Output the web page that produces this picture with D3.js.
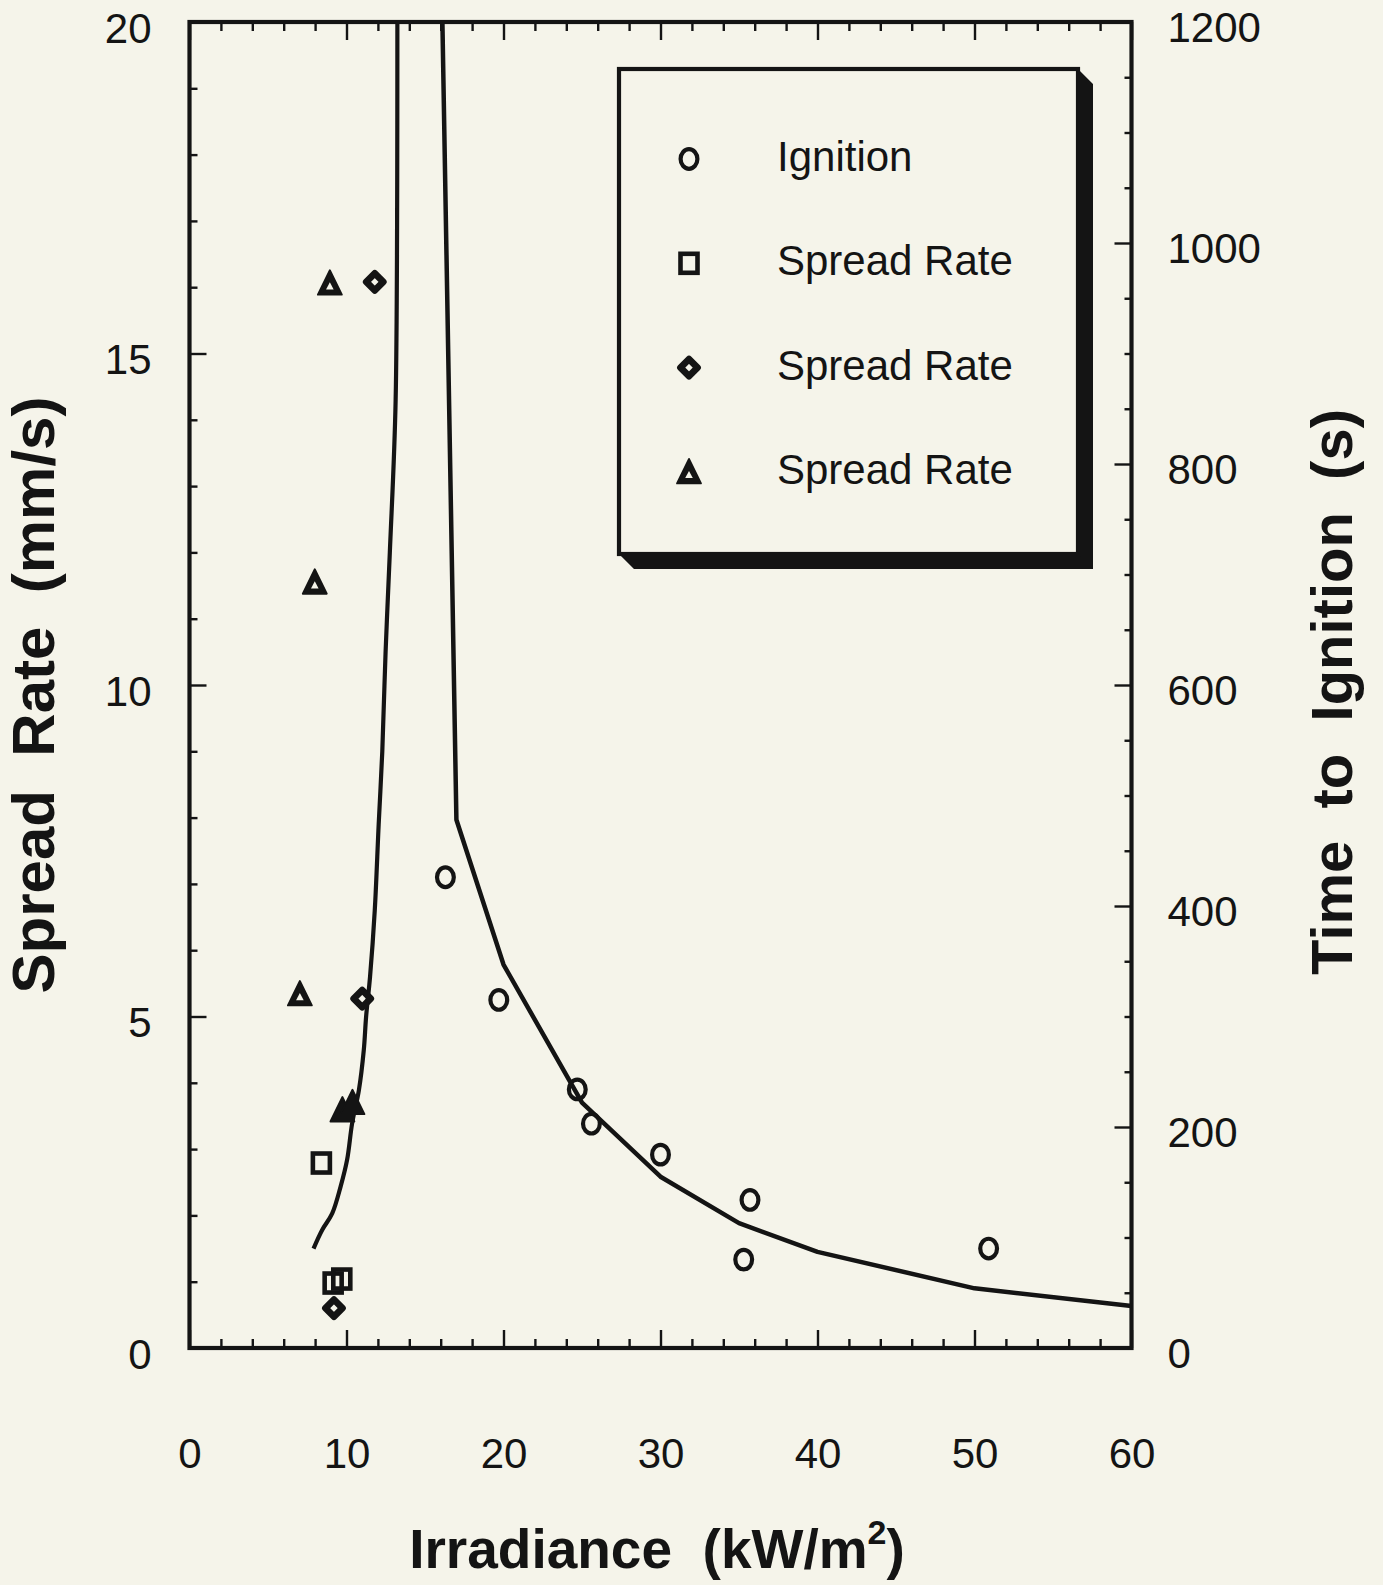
<!DOCTYPE html>
<html>
<head>
<meta charset="utf-8">
<script src="https://cdn.jsdelivr.net/npm/d3@7"></script>
<style>
  html, body { margin: 0; padding: 0; background: #f5f4ea; }
  svg { display: block; }
  text { font-family: "Liberation Sans", Arial, Helvetica, sans-serif; fill: #141414; }
</style>
</head>
<body>
<svg id="chart" width="1383" height="1585"></svg>
<script>
// ---------------- data ----------------
// Ignition: [irradiance kW/m2, time to ignition s] (right axis)
const ignitionPoints = [[16.3,426],[19.7,315],[24.7,234],[25.6,203],[30.0,175],[35.7,134],[35.3,80],[50.9,90]];
// Spread rate series: [irradiance, spread rate mm/s] (left axis)
const squarePoints   = [[8.4,2.79],[9.15,0.98],[9.7,1.04]];
const diamondPoints  = [[11.8,16.08],[11.0,5.27],[9.2,0.6]];
const trianglePoints = [[8.94,16.06],[7.98,11.55],[7.03,5.34]];
const triangleOverlap = [[9.74,3.59],[10.38,3.70]];   // overlapping triangles, printed solid
// Model curves
const spreadCurve = [[7.9,1.5],[8.45,1.78],[9.09,2.03],[9.62,2.43],[10.04,2.84],[10.36,3.39],[10.79,3.89],
  [11.1,4.49],[11.25,5.0],[11.5,5.6],[11.8,6.6],[12.05,7.9],[12.28,9.0],[12.49,10.5],[12.76,12.0],[13.13,14.3],[13.24,20]];
const ignitionCurve = [[16,1288],[17,478],[20,347],[25,222],[30,155],[35,113],[40,87],[50,54],[60,38]];
// Axes
const xTickLabels = [0,10,20,30,40,50,60];
const leftTickLabels = [0,5,10,15,20];
const rightTickLabels = [0,200,400,600,800,1000,1200];
const legendLabels = ["Ignition","Spread Rate","Spread Rate","Spread Rate"];
const legendSymbols = ["circle","square","diamond","triangle"];

// ---------------- layout ----------------
const INK = "#141414", BG = "#f5f4ea";
const L = 189.5, R = 1131.5, T = 22, B = 1348;
const svg = d3.select("#chart");
svg.append("rect").attr("width",1383).attr("height",1585).attr("fill",BG);

const x  = d3.scaleLinear().domain([0,60]).range([L,R]);
const yL = d3.scaleLinear().domain([0,20]).range([B,T]);
const yR = d3.scaleLinear().domain([0,1200]).range([B,T]);

svg.append("clipPath").attr("id","clip").append("rect")
  .attr("x",L).attr("y",T).attr("width",R-L).attr("height",B-T);

function tickGroup(axisFn, scale, values, size, tx, ty) {
  const g = svg.append("g").attr("transform",`translate(${tx},${ty})`)
    .call(axisFn(scale).tickValues(values).tickSize(size).tickFormat(""));
  g.select(".domain").remove();
  g.selectAll("line").attr("stroke",INK).attr("stroke-width",2.4);
  return g;
}
const xMinor = d3.range(0,61,2).filter(v=>v%10!==0);
const lMinor = d3.range(0,21,1).filter(v=>v%5!==0);
const rMinor = d3.range(0,1201,50).filter(v=>v%200!==0);
// bottom and top (inward)
tickGroup(d3.axisBottom, x, xMinor, -9, 0, B);
tickGroup(d3.axisBottom, x, xTickLabels, -18, 0, B);
tickGroup(d3.axisTop, x, xMinor, -9, 0, T);
tickGroup(d3.axisTop, x, xTickLabels, -18, 0, T);
// left
tickGroup(d3.axisLeft, yL, lMinor, -8, L, 0);
tickGroup(d3.axisLeft, yL, leftTickLabels, -17, L, 0);
// right
tickGroup(d3.axisRight, yR, rMinor, -7, R, 0);
tickGroup(d3.axisRight, yR, rightTickLabels, -17, R, 0);

// tick labels
function labelGroup(axisFn, scale, values, pad, tx, ty) {
  const g = svg.append("g").attr("transform",`translate(${tx},${ty})`)
    .call(axisFn(scale).tickValues(values).tickSize(0).tickPadding(pad).tickFormat(d3.format("d")));
  g.select(".domain").remove();
  g.selectAll("line").remove();
  g.selectAll("text").style("font-size","42px").attr("fill",INK)
    .style("font-family",'"Liberation Sans", Arial, sans-serif');
  return g;
}
labelGroup(d3.axisBottom, x, xTickLabels, 0, 0, B).selectAll("text").attr("y",120).attr("dy",null);
labelGroup(d3.axisLeft, yL, leftTickLabels, 38, L, 0).selectAll("text").attr("y",7);
labelGroup(d3.axisRight, yR, rightTickLabels, 36, R, 0).selectAll("text").attr("y",6);

// frame
svg.append("rect").attr("x",L).attr("y",T).attr("width",R-L).attr("height",B-T)
  .attr("fill","none").attr("stroke",INK).attr("stroke-width",4.2);

// curves
const plot = svg.append("g").attr("clip-path","url(#clip)");
plot.append("path").datum(spreadCurve)
  .attr("d", d3.line().x(d=>x(d[0])).y(d=>yL(d[1])).curve(d3.curveCatmullRom.alpha(0.5)))
  .attr("fill","none").attr("stroke",INK).attr("stroke-width",4.2).attr("stroke-linejoin","round");
plot.append("path").datum(ignitionCurve)
  .attr("d", d3.line().x(d=>x(d[0])).y(d=>yR(d[1])))
  .attr("fill","none").attr("stroke",INK).attr("stroke-width",4.5).attr("stroke-linejoin","round");

// symbols
function drawSymbol(g, type, cx, cy, solid) {
  if (type === "circle") {
    g.append("ellipse").attr("cx",cx).attr("cy",cy).attr("rx",8.4).attr("ry",9.8)
      .attr("fill","none").attr("stroke",INK).attr("stroke-width",4.2);
  } else if (type === "square") {
    g.append("rect").attr("x",cx-8.5).attr("y",cy-9.5).attr("width",17).attr("height",19)
      .attr("fill","none").attr("stroke",INK).attr("stroke-width",4.6);
  } else if (type === "diamond") {
    const h = 8.5;
    g.append("path").attr("d",`M${cx},${cy-h}L${cx+h},${cy}L${cx},${cy+h}L${cx-h},${cy}Z`)
      .attr("fill","none").attr("stroke",INK).attr("stroke-width",6.8).attr("stroke-linejoin","round");
  } else if (type === "triangle") {
    g.append("path").attr("d",`M${cx},${cy-13}L${cx+12},${cy+11.5}L${cx-12},${cy+11.5}Z`)
      .attr("fill",INK).attr("stroke",INK).attr("stroke-width",1.8).attr("stroke-linejoin","round");
    if (!solid) {
      g.append("path").attr("d",`M${cx},${cy-1}L${cx+3.8},${cy+6.2}L${cx-3.8},${cy+6.2}Z`).attr("fill",BG);
    }
  }
}
const marks = svg.append("g");
ignitionPoints.forEach(d => drawSymbol(marks,"circle",x(d[0]),yR(d[1])));
squarePoints.forEach(d => drawSymbol(marks,"square",x(d[0]),yL(d[1])));
diamondPoints.forEach(d => drawSymbol(marks,"diamond",x(d[0]),yL(d[1])));
trianglePoints.forEach(d => drawSymbol(marks,"triangle",x(d[0]),yL(d[1])));
triangleOverlap.forEach(d => drawSymbol(marks,"triangle",x(d[0]),yL(d[1]),true));

// legend
const lx0 = 619, ly0 = 69, lx1 = 1078, ly1 = 554, sh = 15;
svg.append("path")
  .attr("d",`M${lx1},${ly0}L${lx1+sh},${ly0+sh}L${lx1+sh},${ly1+sh}L${lx0+sh},${ly1+sh}L${lx0},${ly1}L${lx1},${ly1}Z`)
  .attr("fill",INK);
svg.append("rect").attr("x",lx0).attr("y",ly0).attr("width",lx1-lx0).attr("height",ly1-ly0)
  .attr("fill",BG).attr("stroke",INK).attr("stroke-width",4.2);
const leg = svg.append("g");
legendLabels.forEach((lab,i) => {
  const base = 171 + i*104.3;
  drawSymbol(leg, legendSymbols[i], 689, base-12);
  leg.append("text").attr("x",777).attr("y",base).style("font-size","42px").text(lab);
});

// axis titles
svg.append("text").attr("x",657).attr("y",1568).attr("text-anchor","middle")
  .style("font-size","55px").style("font-weight","bold").style("white-space","pre")
  .call(t => {
    t.append("tspan").text("Irradiance  (kW/m");
    t.append("tspan").attr("dy",-24).style("font-size","34px").text("2");
    t.append("tspan").attr("dy",24).text(")");
  });
svg.append("text").attr("transform","translate(54,695) rotate(-90)").attr("text-anchor","middle")
  .style("font-size","60px").style("font-weight","bold").style("white-space","pre")
  .text("Spread  Rate  (mm/s)");
svg.append("text").attr("transform","translate(1352,692) rotate(-90)").attr("text-anchor","middle")
  .style("font-size","58px").style("font-weight","bold").style("white-space","pre")
  .text("Time  to  Ignition  (s)");
</script>
</body>
</html>
